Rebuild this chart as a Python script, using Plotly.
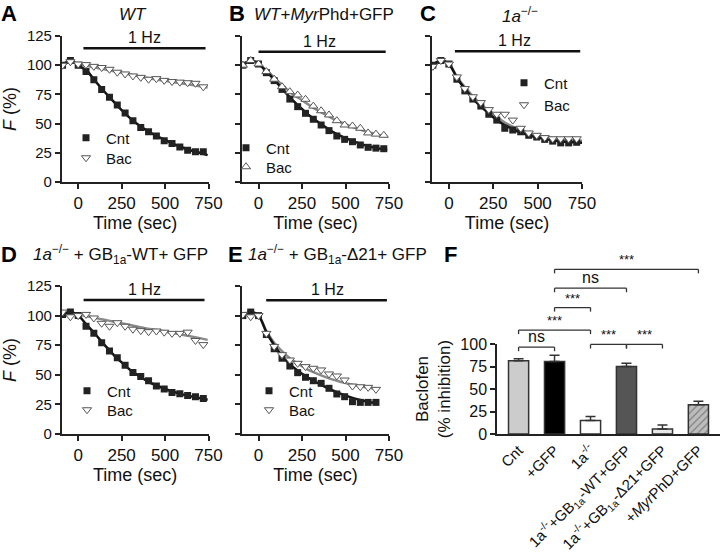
import plotly.graph_objects as go

FONT = "Liberation Sans, Arial, sans-serif"
W, H = 720, 555

# ---------------- data ----------------
t = [-90, -45, 0, 45, 90, 135, 180, 225, 270, 315, 360, 405, 450, 495, 540, 585, 630, 675, 720]
t_e = [-90, -45, 0, 45, 90, 135, 180, 225, 270, 315, 360, 405, 450, 495, 540, 585, 630, 675]

A_cnt = [100, 104, 100, 94.5, 87.5, 79.3, 72.5, 66, 59, 52.5, 46.7, 43, 39.4, 35.4, 33, 30, 27.2, 26, 26]
A_bac = [100, 103, 101, 100.5, 99, 98, 96.5, 94, 92.5, 90.8, 89.6, 88, 88.5, 87, 86, 85.5, 85, 84.5, 81.5]
A_fit_t = [-90, -45, 0, 50, 100, 150, 200, 250, 300, 350, 400, 450, 500, 550, 600, 650, 700, 745]
A_cnt_fit = [100, 104, 100, 95, 86, 77.5, 69.5, 61.5, 54.5, 48.5, 43.5, 39.5, 36, 32.5, 29.5, 27, 25, 23]
A_bac_fit = [100, 103, 101, 99.5, 98, 96.5, 95, 93.5, 92, 90.5, 89, 87.8, 86.6, 85.4, 84.3, 83.2, 82, 81]

B_cnt = [100, 104, 101, 93.6, 86.8, 79.3, 71, 64.5, 58.8, 53.7, 48.8, 44, 39.4, 36.5, 34.5, 31.7, 29.7, 29, 28.5]
B_bac = [100, 104, 101, 94.5, 88, 81.6, 77.3, 74.5, 70.8, 65, 61, 57.4, 52.5, 48.8, 48, 46, 42, 41, 40]
B_fit_t = [-90, -45, 0, 50, 100, 150, 200, 250, 300, 350, 400, 450, 500, 550, 600, 650, 700, 740]
B_cnt_fit = [100, 104, 101, 94, 86, 77.5, 69.5, 62.5, 56, 50.5, 45.5, 41, 37.5, 34.5, 32, 30, 28.5, 27.5]
B_bac_fit = [100, 104, 101, 95, 88, 81, 75, 70, 65, 60.5, 56.5, 52.5, 49.5, 46.5, 44, 42, 40, 39]

C_cnt = [100, 104, 101, 88, 78, 71, 65, 58, 53, 46, 44.5, 43, 40, 38.5, 36.5, 35, 33.5, 33.5, 34]
C_bac = [99, 104, 101, 90, 80, 73, 68, 62, 58, 58, 53, 46, 42, 40, 38, 37, 37, 37, 37]
C_fit_t = [-90, -45, 0, 50, 100, 150, 200, 250, 300, 350, 400, 450, 500, 550, 600, 650, 700, 750]
C_cnt_fit = [100, 104, 101, 88, 78, 69, 62, 55.5, 50, 46, 42.5, 40, 38, 36.5, 35.3, 34.5, 34, 33.5]
C_bac_fit = [100, 104, 101, 89, 79.5, 71, 64, 58, 52.5, 48, 44.5, 42, 40, 38.5, 37.3, 36.5, 35.8, 35.3]

D_cnt = [101, 103, 100, 91, 85, 77, 70, 64.5, 58, 52, 48.5, 45, 40.5, 38, 35, 34, 32.5, 31.5, 30]
D_bac = [103, 99, 100, 101, 98, 93.5, 91, 94, 91, 88.5, 87.3, 86.4, 87, 86, 85, 85, 86, 79, 75.5]
D_fit_t = [-90, -45, 0, 50, 100, 150, 200, 250, 300, 350, 400, 450, 500, 550, 600, 650, 700, 745]
D_cnt_fit = [101, 103, 100, 92, 84, 75.5, 67.5, 60.5, 54, 49, 44.5, 41, 38, 35.5, 33.5, 31.8, 30.3, 29]
D_bac_fit = [101, 100, 101, 99.5, 98, 96.5, 95, 93.5, 92, 90.5, 89, 87.8, 86.5, 85, 83.8, 82.4, 81, 79.5]

E_cnt = [100, 103, 100, 84, 72, 64, 57.4, 51.8, 47.9, 45, 42.8, 38.6, 33.8, 31.5, 27.3, 26.7, 26.7, 26.7]
E_bac = [101, 99, 100, 85, 74, 67, 62.5, 59.7, 56.9, 55.5, 54.1, 50.7, 49, 45.6, 40.5, 39.9, 39.4, 37.7]
E_fit_t = [-90, -45, 0, 45, 90, 135, 180, 225, 270, 315, 360, 405, 450, 495, 540, 585, 630, 680]
E_cnt_fit = [100, 103, 100, 86, 75, 66, 59, 53.5, 49, 45, 41.5, 38.3, 35.3, 32.8, 30.5, 28.7, 27.2, 26]
E_bac_fit = [100, 103, 100, 87, 77, 70, 64, 59.5, 55.5, 52.3, 49.5, 47, 45, 43.2, 41.7, 40.3, 39.2, 38]

F_labels = ["Cnt", "+GFP", "1a<sup>-/-</sup>",
            "1a<sup>-/-</sup>+GB<sub>1a</sub>-WT+GFP",
            "1a<sup>-/-</sup>+GB<sub>1a</sub>-Δ21+GFP",
            "+<i>Myr</i>PhD+GFP"]
F_vals = [81.5, 80.5, 15, 75, 5.5, 32.5]
F_err = [2, 7, 4.5, 3.5, 4.5, 4]
F_colors = ["#cccccc", "#000000", "#ffffff", "#555555", "#e8e8e8", "#bdbdbd"]

# significance brackets: (from, to, height, label)
brackets = [(0, 1, 96.5, "ns"), (0, 2, 115.5, "***"), (1, 2, 140.5, "***"),
            (1, 3, 162, "ns"), (1, 5, 183, "***"), (2, 3, 99.5, "***"), (3, 4, 99.5, "***")]

# ---------------- layout geometry (screen pixels) ----------------
def fx(p):
    return p / W

def fy(p):
    return 1 - p / H

panels = [
    dict(s="", xd=(61.7, 208.5), yd=(36, 182), t=t, cnt=A_cnt, bac=A_bac, ft=A_fit_t,
         cf=A_cnt_fit, bf=A_bac_fit, ylab=True, sym="triangle-down",
         leg=((86, 138), (86, 158)), stim=(30, 733, 114.5, 381)),
    dict(s="2", xd=(242, 389), yd=(36, 182), t=t, cnt=B_cnt, bac=B_bac, ft=B_fit_t,
         cf=B_cnt_fit, bf=B_bac_fit, ylab=False, sym="triangle-up",
         leg=((246, 148), (246, 167)), stim=(0, 731, 111.6, 348)),
    dict(s="3", xd=(432, 582), yd=(36, 182), t=t, cnt=C_cnt, bac=C_bac, ft=C_fit_t,
         cf=C_cnt_fit, bf=C_bac_fit, ylab=False, sym="triangle-down",
         leg=((524, 83), (524, 105)), stim=(34, 740, 112, 372)),
    dict(s="4", xd=(61.7, 208.5), yd=(286, 434), t=t, cnt=D_cnt, bac=D_bac, ft=D_fit_t,
         cf=D_cnt_fit, bf=D_bac_fit, ylab=True, sym="triangle-down",
         leg=((87, 391), (87, 410)), stim=(31, 727, 113.2, 381)),
    dict(s="5", xd=(242, 389), yd=(286, 434), t=t_e, cnt=E_cnt, bac=E_bac, ft=E_fit_t,
         cf=E_cnt_fit, bf=E_bac_fit, ylab=False, sym="triangle-down",
         leg=((269, 391), (269, 410)), stim=(44, 738, 113, 394)),
]

axcol = "#222222"
fig = go.Figure()
layout = dict(width=W, height=H, margin=dict(l=0, r=0, t=0, b=0, autoexpand=False),
              paper_bgcolor="white", plot_bgcolor="white",
              font=dict(family=FONT, color="#111111"), showlegend=True)
shapes = []
annotations = []
legn = [1]

def next_legend():
    n = legn[0]
    legn[0] += 1
    return "legend" if n == 1 else "legend%d" % n

for p in panels:
    s = p["s"]
    xa, ya = "x" + s, "y" + s
    layout["xaxis" + s] = dict(domain=[fx(p["xd"][0]), fx(p["xd"][1])], anchor=ya,
                               range=[-95, 750], tickvals=[0, 250, 500, 750], automargin=False,
                               showline=True, linecolor=axcol, linewidth=1.5,
                               ticks="outside", ticklen=5, tickwidth=1.5, tickcolor=axcol,
                               showgrid=False, zeroline=False,
                               tickfont=dict(size=17, family=FONT, color="#111"),
                               title=dict(text="Time (sec)", font=dict(size=18, family=FONT),
                                          standoff=0))
    layout["yaxis" + s] = dict(domain=[fy(p["yd"][1]), fy(p["yd"][0])], anchor=xa,
                               range=[0, 125], tickvals=[0, 25, 50, 75, 100, 125], automargin=False,
                               showline=True, linecolor=axcol, linewidth=1.5,
                               ticks="outside", ticklen=5, tickwidth=1.5, tickcolor=axcol,
                               showgrid=False, zeroline=False,
                               showticklabels=p["ylab"],
                               tickfont=dict(size=15, family=FONT, color="#111"))
    if p["ylab"]:
        layout["yaxis" + s]["title"] = dict(text="<i>F</i> (%)", font=dict(size=18, family=FONT),
                                            standoff=6)
    # fits
    fig.add_trace(go.Scatter(x=p["ft"], y=p["bf"], mode="lines", line=dict(color="#8a8a8a", width=2.5, shape="spline"),
                             xaxis=xa, yaxis=ya, showlegend=False, hoverinfo="skip"))
    fig.add_trace(go.Scatter(x=p["ft"], y=p["cf"], mode="lines", line=dict(color="#111111", width=2.5, shape="spline"),
                             xaxis=xa, yaxis=ya, showlegend=False, hoverinfo="skip"))
    lg1 = next_legend()
    lg2 = next_legend()
    fig.add_trace(go.Scatter(x=p["t"], y=p["cnt"], mode="markers", name="Cnt",
                             marker=dict(symbol="square", size=7, color="#222222"),
                             xaxis=xa, yaxis=ya, legend=lg1))
    fig.add_trace(go.Scatter(x=p["t"], y=p["bac"], mode="markers", name="Bac",
                             marker=dict(symbol=p["sym"], size=8, color="white",
                                         line=dict(color="#555555", width=1)),
                             xaxis=xa, yaxis=ya, legend=lg2))
    for lg, (mx, my) in zip((lg1, lg2), p["leg"]):
        layout[lg] = dict(x=fx(mx - 20), y=fy(my), xanchor="left", yanchor="middle",
                          bgcolor="rgba(0,0,0,0)", font=dict(size=15, family=FONT, color="#111"),
                          itemwidth=30, tracegroupgap=0)
    x0, x1, ys, xt = p["stim"]
    shapes.append(dict(type="line", xref=xa, yref=ya, x0=x0, x1=x1, y0=ys, y1=ys,
                       line=dict(color="#111", width=2.5)))
    annotations.append(dict(xref=xa, yref=ya, x=xt, y=ys, text="1 Hz", showarrow=False,
                            yanchor="bottom", font=dict(size=16, family=FONT, color="#111")))

# ---------------- panel F ----------------
layout["xaxis6"] = dict(domain=[fx(497), fx(720)], anchor="y6", range=[-0.6, 5.6],
                        tickvals=list(range(6)), ticktext=F_labels, tickangle=-45, automargin=False,
                        showline=True, linecolor=axcol, linewidth=1.5, ticks="",
                        showgrid=False, zeroline=False,
                        tickfont=dict(size=15, family=FONT, color="#111"))
layout["yaxis6"] = dict(domain=[fy(434), fy(344)], anchor="x6", range=[0, 100],
                        tickvals=[0, 25, 50, 75, 100], automargin=False,
                        showline=True, linecolor=axcol, linewidth=1.5,
                        ticks="outside", ticklen=5, tickwidth=1.5, tickcolor=axcol,
                        showgrid=False, zeroline=False,
                        tickfont=dict(size=16, family=FONT, color="#111"),
                        title=dict(text="Baclofen<br>(% inhibition)", font=dict(size=17, family=FONT),
                                   standoff=5))
fig.add_trace(go.Bar(x=list(range(6)), y=F_vals, width=0.56, xaxis="x6", yaxis="y6",
                     showlegend=False,
                     marker=dict(color=F_colors, line=dict(color="#333333", width=1.5),
                                 pattern=dict(shape=["", "", "", "", "", "/"], fgcolor="#777777",
                                              size=5, solidity=0.25)),
                     error_y=dict(type="data", array=F_err, arrayminus=[0] * 6, symmetric=False,
                                  color="#333333", thickness=1.5, width=5)))

for (i, j, h, lab) in brackets:
    top = h / 100.0
    drop = 4.5 / 100.0
    for (a, b, c, d) in [(i, top, j, top), (i, top, i, top - drop), (j, top, j, top - drop)]:
        shapes.append(dict(type="line", xref="x6", yref="y6 domain", x0=a, y0=b, x1=c, y1=d,
                           line=dict(color="#333333", width=1.3)))
    annotations.append(dict(xref="x6", yref="y6 domain", x=(i + j) / 2.0, y=top, text=lab,
                            showarrow=False, yanchor="bottom", yshift=0,
                            font=dict(size=16 if lab == "ns" else 13, family=FONT, color="#111")))

# ---------------- panel letters & titles ----------------
letters = [("A", 9, 14), ("B", 237, 14), ("C", 428, 14), ("D", 9, 255), ("E", 235, 255), ("F", 450, 255)]
for txt, x, y in letters:
    annotations.append(dict(xref="paper", yref="paper", x=fx(x), y=fy(y), text="<b>%s</b>" % txt,
                            showarrow=False, xanchor="center", yanchor="middle",
                            font=dict(size=22, family=FONT, color="#000")))
titles = [("<i>WT</i>", 133, 15), ("<i>WT</i>+<i>Myr</i>Phd+GFP", 324, 15),
          ("<i>1a</i><sup>−/−</sup>", 520, 15),
          ("<i>1a</i><sup>−/−</sup> + GB<sub>1a</sub>-WT+ GFP", 120, 255),
          ("<i>1a</i><sup>−/−</sup> + GB<sub>1a</sub>-Δ21+ GFP", 337, 255)]
for txt, x, y in titles:
    annotations.append(dict(xref="paper", yref="paper", x=fx(x), y=fy(y), text=txt,
                            showarrow=False, xanchor="center", yanchor="middle",
                            font=dict(size=17, family=FONT, color="#111")))

layout["shapes"] = shapes
layout["annotations"] = annotations
fig.update_layout(**layout)
fig.write_html("out.html", config={"displayModeBar": False},
               post_script="document.body.style.margin='0px';document.body.style.overflow='hidden';")
